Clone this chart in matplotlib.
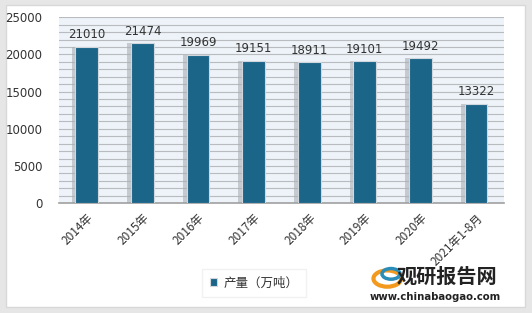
import matplotlib.pyplot as plt
import numpy as np
from matplotlib.patches import Rectangle

plt.rcParams['font.family'] = ['Noto Sans CJK SC', 'DejaVu Sans']

# data
years = ['2014年', '2015年', '2016年', '2017年', '2018年', '2019年', '2020年', '2021年1-8月']
output = [21010, 21474, 19969, 19151, 18911, 19101, 19492, 13322]
yticks = [0, 5000, 10000, 15000, 20000, 25000]

bar_color = '#1b6589'

fig = plt.figure(figsize=(5.32, 3.13), dpi=100)
fig.patch.set_facecolor('#e6e6e6')
# white card
fig.patches.append(Rectangle((0.012, 0.02), 0.975, 0.965, transform=fig.transFigure,
                             facecolor='white', edgecolor='#d8d8d8', lw=1, zorder=-10))

ax = fig.add_axes([0.111, 0.351, 0.836, 0.594])
ax.set_facecolor('#edf3f8')
x = np.arange(len(years))

# soft shadows behind bars
ax.bar(x - 0.04, output, width=0.47, color='#a9afb5', alpha=0.6, zorder=2)
ax.bar(x, output, width=0.41, color=bar_color, edgecolor='#d0d8de', linewidth=0.8,
       zorder=3, label='产量（万吨）')

for xi, v in zip(x, output):
    ax.text(xi, v + 750, str(v), ha='center', va='bottom', fontsize=8.5,
            color='#333333', family='DejaVu Sans', zorder=4)

ax.set_xlim(-0.5, len(years) - 0.5)
ax.set_ylim(0, 25000)
ax.set_yticks(yticks)
ax.set_yticklabels([str(t) for t in yticks], fontsize=8.5, color='#333333', family='DejaVu Sans')
ax.set_yticks(np.arange(0, 25001, 1000), minor=True)
ax.grid(axis='y', which='both', color='#b8bcc0', linewidth=0.8, zorder=1)
ax.set_axisbelow(True)
ax.tick_params(axis='y', which='both', length=0, pad=12)

ax.set_xticks(x)
ax.set_xticklabels(years, rotation=45, ha='right', rotation_mode='anchor',
                   fontsize=8.5, color='#333333')
ax.tick_params(axis='x', length=0, pad=6)

for s in ['top', 'right', 'left']:
    ax.spines[s].set_visible(False)
ax.spines['bottom'].set_color('#a0a0a0')
ax.spines['bottom'].set_linewidth(1.2)

leg = fig.legend(loc='center', bbox_to_anchor=(0.478, 0.095), frameon=True, fontsize=9,
                 handlelength=0.6, handleheight=0.6, handletextpad=0.5,
                 borderpad=0.6, fancybox=False)
leg.get_frame().set_edgecolor('#eeeeee')
for t in leg.get_texts():
    t.set_color('#333333')

# watermark
fig.text(0.84, 0.118, '观研报告网', fontsize=14.5, fontweight='bold', color='#222222',
         ha='center', va='center')
fig.text(0.818, 0.052, 'www.chinabaogao.com', fontsize=7.3, fontweight='bold', color='#222222',
         ha='center', va='center', family='DejaVu Sans')
fig.patches.append(plt.Circle((0.728, 0.11), 0.026, transform=fig.transFigure,
                              facecolor='none', edgecolor='#f39a1e', lw=3))
fig.patches.append(plt.Circle((0.735, 0.125), 0.017, transform=fig.transFigure,
                              facecolor='none', edgecolor='#2a8cb8', lw=2.5))

fig.savefig('out.png', dpi=100, facecolor=fig.get_facecolor())
